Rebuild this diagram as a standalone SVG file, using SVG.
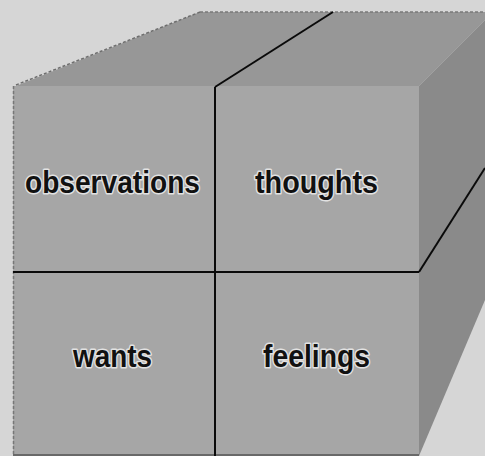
<svg xmlns="http://www.w3.org/2000/svg" width="485" height="456" viewBox="0 0 485 456">
  <style>
    .lbl { font-family: "Liberation Sans", Arial, sans-serif; font-weight: bold; font-size: 31px; fill: #111; stroke: #e2e2e2; stroke-width: 3; paint-order: stroke; stroke-linejoin: round; }
    .face { fill: #a6a6a6; }
    .line { stroke: #0a0a0a; stroke-width: 2; fill: none; }
  </style>
  <rect width="485" height="456" fill="#d6d6d6"/>
  <g id="cube-body">
    <polygon points="16,86 200,12 485,12 485,20 419,86" fill="#979797"/>
    <polygon points="419,86 485,20 485,300 419,456" fill="#8a8a8a"/>
    <line x1="16" y1="85" x2="200" y2="12" stroke="#6e6e6e" stroke-width="1.5" stroke-dasharray="3,2"/>
    <line x1="200" y1="12" x2="485" y2="12" stroke="#7a7a7a" stroke-width="1.5" stroke-dasharray="3,2"/>
  </g>
  <g id="observations">
    <rect class="face" x="13" y="86" width="202" height="186"/>
    <text class="lbl" x="25" y="193" textLength="175" lengthAdjust="spacingAndGlyphs">observations</text>
  </g>
  <g id="thoughts">
    <rect class="face" x="215" y="86" width="204" height="186"/>
    <text class="lbl" x="255" y="193" textLength="123" lengthAdjust="spacingAndGlyphs">thoughts</text>
  </g>
  <g id="wants">
    <rect class="face" x="13" y="272" width="202" height="184"/>
    <text class="lbl" x="73" y="367" textLength="79" lengthAdjust="spacingAndGlyphs">wants</text>
  </g>
  <g id="feelings">
    <rect class="face" x="215" y="272" width="204" height="184"/>
    <text class="lbl" x="263" y="367" textLength="107" lengthAdjust="spacingAndGlyphs">feelings</text>
  </g>
  <g id="connectors">
    <line x1="13.5" y1="86" x2="13.5" y2="456" stroke="#777" stroke-width="1.5" stroke-dasharray="3,2"/>
    <line x1="13" y1="455" x2="419" y2="455" stroke="#555" stroke-width="1.5"/>
    <line class="line" x1="215" y1="87" x2="215" y2="456"/>
    <line class="line" x1="215" y1="87" x2="333" y2="12"/>
    <line class="line" x1="13" y1="272" x2="419" y2="272"/>
    <line class="line" x1="419" y1="272" x2="485" y2="168"/>
  </g>
</svg>
